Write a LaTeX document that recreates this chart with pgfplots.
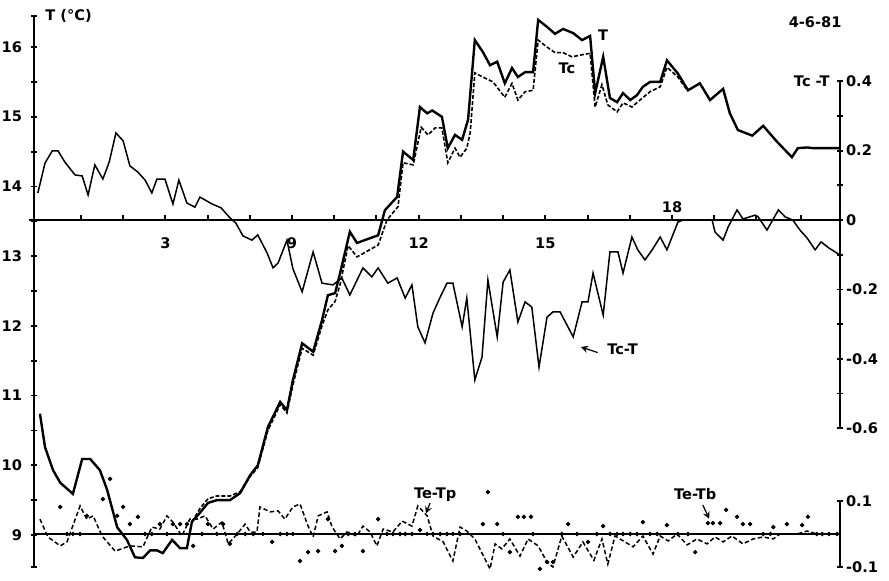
\documentclass[border=0pt]{standalone}
\usepackage{pgfplots}
\pgfplotsset{compat=1.18}
\usepackage{fontspec}
\setmainfont{DejaVu Sans}
\newcommand{\lab}{\fontsize{7.3}{8.5}\selectfont\bfseries}
\pgfplotsset{
  base/.style={
    scale only axis, width=403pt, height=275.5pt,
    at={(0,0)}, anchor=south west,
    xmin=2.889, xmax=21.979, clip=false,
    axis line style={-, line width=1pt},
    tick style={line width=0.9pt, black},
    major tick length=3pt, minor tick length=3pt,
    tick align=inside,
    tick label style={font=\lab},
  }
}
\begin{document}
\begin{tikzpicture}
% ---------- T and Tc (left axis) ----------
\begin{axis}[base, ymin=8.541, ymax=16.446,
  axis x line=none, axis y line=left,
  y axis line style={-, line width=1pt},
  ytick={9,10,11,12,13,14,15,16}, yticklabels={9,10,11,12,13,14,15,16},
  minor ytick={8.541,9.5,10.5,11.5,12.5,13.5,14.5,15.5,16.446},
  yticklabel style={xshift=-1pt}]
\addplot[black, line width=1.2pt] coordinates {
(3.03,10.74)(3.15,10.26)(3.34,9.93)(3.51,9.75)(3.81,9.59)(4.03,10.09)(4.22,10.09)(4.45,9.93)(4.62,9.65)(4.86,9.11)(5.09,8.93)(5.28,8.68)(5.47,8.67)(5.64,8.78)(5.80,8.78)(5.94,8.74)(6.16,8.93)(6.35,8.81)(6.51,8.81)(6.63,9.19)(6.82,9.32)(7.01,9.46)(7.22,9.50)(7.53,9.50)(7.77,9.60)(8.01,9.86)(8.19,10.00)(8.43,10.55)(8.72,10.91)(8.88,10.79)(9.02,11.22)(9.24,11.75)(9.50,11.63)(9.71,12.08)(9.85,12.44)(10.02,12.47)(10.14,12.76)(10.37,13.35)(10.54,13.19)(11.04,13.30)(11.20,13.66)(11.49,13.85)(11.63,14.50)(11.87,14.38)(12.03,15.14)(12.20,15.05)(12.32,15.09)(12.55,15.00)(12.69,14.55)(12.86,14.74)(13.03,14.67)(13.17,14.96)(13.33,16.10)(13.52,15.93)(13.69,15.74)(13.86,15.79)(14.04,15.48)(14.21,15.70)(14.35,15.57)(14.52,15.64)(14.71,15.64)(14.83,16.39)(15.04,16.29)(15.23,16.19)(15.42,16.26)(15.66,16.20)(15.87,16.10)(16.06,16.16)(16.18,15.34)(16.37,15.86)(16.53,15.27)(16.70,15.21)(16.84,15.34)(17.01,15.24)(17.17,15.31)(17.31,15.43)(17.48,15.50)(17.72,15.50)(17.88,15.81)(18.14,15.62)(18.38,15.38)(18.66,15.48)(18.90,15.24)(19.21,15.40)(19.37,15.05)(19.56,14.81)(19.90,14.73)(20.16,14.87)(20.49,14.64)(20.84,14.42)(20.98,14.55)(21.20,14.56)(21.34,14.55)(21.98,14.55)
};
\addplot[black, line width=0.8pt, dash pattern=on 2pt off 1pt] coordinates {
(6.63,9.19)(6.82,9.38)(7.01,9.52)(7.22,9.56)(7.53,9.56)(7.77,9.62)(8.01,9.84)(8.19,9.97)(8.43,10.50)(8.72,10.87)(8.88,10.75)(9.02,11.15)(9.24,11.68)(9.50,11.58)(9.71,12.00)(9.85,12.23)(10.02,12.35)(10.14,12.60)(10.33,13.15)(10.54,12.99)(11.04,13.16)(11.25,13.52)(11.51,13.71)(11.63,14.34)(11.87,14.31)(12.06,14.85)(12.22,14.74)(12.39,14.84)(12.55,14.84)(12.69,14.34)(12.86,14.55)(12.98,14.42)(13.14,14.55)(13.22,14.77)(13.33,15.63)(13.52,15.57)(13.76,15.50)(14.04,15.28)(14.21,15.48)(14.35,15.24)(14.52,15.36)(14.71,15.38)(14.83,16.10)(15.04,16.00)(15.23,15.92)(15.42,15.92)(15.63,15.86)(15.87,15.89)(16.06,15.91)(16.18,15.14)(16.34,15.46)(16.48,15.17)(16.70,15.07)(16.84,15.20)(17.05,15.14)(17.24,15.24)(17.48,15.36)(17.72,15.43)(17.88,15.71)(18.14,15.57)(18.36,15.38)
};
\node[font=\lab, anchor=west] at (axis cs:2.99,16.45) {T (°C)};
\node[font=\lab] at (axis cs:21.39,16.36) {4-6-81};
\node[font=\lab] at (axis cs:16.37,16.17) {T};
\node[font=\lab] at (axis cs:15.51,15.69) {Tc};
\end{axis}
% ---------- Tc - T (right axis) ----------
\begin{axis}[base, ymin=-1.0, ymax=0.588,
  axis x line=middle, axis y line=right,
  x axis line style={-, line width=1pt},
  y axis line style={draw=none},
  xtick={6,9,12,15}, xticklabels={3,9,12,15},
  major x tick style={draw=none},
  xticklabel style={yshift=-4pt},
  ytick={-0.6,-0.4,-0.2,0,0.2,0.4}, yticklabels={-0.6,-0.4,-0.2,0,0.2,0.4},
  minor ytick={-0.5,-0.3,-0.1,0.1,0.3},
  yticklabel style={xshift=-2pt}]
\draw[line width=1pt] (axis cs:21.979,-0.6) -- (axis cs:21.979,0.4);
\draw[line width=1pt] (axis cs:4,0) -- (axis cs:4,0.015) (axis cs:5,0) -- (axis cs:5,0.015) (axis cs:6,0) -- (axis cs:6,0.015) (axis cs:7,0) -- (axis cs:7,0.015) (axis cs:8,0) -- (axis cs:8,0.015) (axis cs:9,0) -- (axis cs:9,0.015) (axis cs:10,0) -- (axis cs:10,0.015) (axis cs:11,0) -- (axis cs:11,0.015) (axis cs:12,0) -- (axis cs:12,0.015) (axis cs:13,0) -- (axis cs:13,0.015) (axis cs:14,0) -- (axis cs:14,0.015) (axis cs:15,0) -- (axis cs:15,0.015) (axis cs:16,0) -- (axis cs:16,0.015) (axis cs:17,0) -- (axis cs:17,0.015) (axis cs:18,0) -- (axis cs:18,0.015) (axis cs:19,0) -- (axis cs:19,0.015) (axis cs:20,0) -- (axis cs:20,0.015) (axis cs:21.05,0) -- (axis cs:21.05,0.015);
\draw[line width=0.9pt] (axis cs:2.889,0) -- ([xshift=-2.5pt]axis cs:2.889,0);
\addplot[black, line width=0.75pt] coordinates {
(2.98,0.078)(3.15,0.164)(3.32,0.199)(3.46,0.199)(3.62,0.167)(3.86,0.130)(4.03,0.127)(4.17,0.072)(4.33,0.159)(4.52,0.118)(4.67,0.167)(4.83,0.251)(5.00,0.228)(5.16,0.156)(5.35,0.138)(5.52,0.115)(5.68,0.078)(5.80,0.118)(5.99,0.118)(6.18,0.046)(6.32,0.115)(6.51,0.049)(6.70,0.037)(6.82,0.066)(7.11,0.046)(7.32,0.035)(7.51,0.009)(7.67,-0.009)(7.84,-0.046)(8.05,-0.058)(8.19,-0.043)(8.41,-0.095)(8.55,-0.138)(8.67,-0.124)(8.88,-0.058)(9.02,-0.140)(9.24,-0.207)(9.50,-0.092)(9.71,-0.182)(9.97,-0.187)(10.18,-0.167)(10.37,-0.216)(10.68,-0.138)(10.89,-0.164)(11.04,-0.138)(11.27,-0.182)(11.49,-0.167)(11.68,-0.225)(11.84,-0.187)(11.98,-0.308)(12.15,-0.354)(12.34,-0.268)(12.51,-0.222)(12.67,-0.182)(12.81,-0.182)(13.03,-0.308)(13.14,-0.225)(13.33,-0.461)(13.50,-0.395)(13.64,-0.173)(13.86,-0.337)(14.00,-0.179)(14.16,-0.144)(14.35,-0.294)(14.52,-0.236)(14.68,-0.251)(14.85,-0.424)(15.04,-0.280)(15.18,-0.265)(15.35,-0.265)(15.66,-0.337)(15.87,-0.236)(16.01,-0.236)(16.13,-0.153)(16.37,-0.274)(16.53,-0.092)(16.72,-0.092)(16.84,-0.153)(17.05,-0.049)(17.19,-0.086)(17.36,-0.115)(17.53,-0.086)(17.72,-0.049)(17.88,-0.086)(18.00,-0.049)(18.14,-0.006)(18.26,0)(18.95,0)(19.02,-0.035)(19.21,-0.058)(19.33,-0.020)(19.54,0.029)(19.68,0.003)(19.97,0.014)(20.04,0.009)(20.25,-0.029)(20.52,0.029)(20.68,0.009)(20.86,0)(21.03,-0.029)(21.20,-0.052)(21.39,-0.086)(21.53,-0.063)(21.72,-0.081)(21.98,-0.101)
};
\node[font=\lab] at (axis cs:18,0.037) {18};
\node[font=\lab, anchor=east] at (axis cs:21.90,0.4) {Tc -T};
\node[font=\lab, anchor=west] at (axis cs:16.30,-0.372) {Tc-T};
\draw[->, >=stealth, line width=0.6pt] (axis cs:16.24,-0.382) -- (axis cs:15.84,-0.366);
\end{axis}
% ---------- Te - Tp, Te - Tb (bottom right axis) ----------
\begin{axis}[base, ymin=-0.1, ymax=1.57,
  axis x line=middle, axis y line=right,
  x axis line style={-, line width=1pt},
  y axis line style={draw=none},
  xtick=\empty,
  ytick={-0.1,0.1}, yticklabels={-0.1,0.1},
  yticklabel style={xshift=-2pt}]
\draw[line width=1pt] (axis cs:21.979,-0.1) -- (axis cs:21.979,0.1);
\addplot[black, line width=0.75pt, dash pattern=on 2.2pt off 1.3pt] coordinates {
(3.03,0.045)(3.22,-0.009)(3.51,-0.036)(3.67,-0.024)(3.98,0.085)(4.14,0.045)(4.29,0.055)(4.50,-0.006)(4.81,-0.052)(5.16,-0.036)(5.47,-0.039)(5.68,0.021)(5.87,0.015)(6.04,0.055)(6.18,0.036)(6.39,-0.006)(6.58,0.045)(6.75,0.045)(6.94,0.055)(7.13,0.015)(7.34,0.036)(7.49,-0.030)(7.70,0)(7.89,0.030)(8.01,0.006)(8.17,0.006)(8.24,0.082)(8.48,0.067)(8.67,0.070)(8.83,0.045)(9.02,0.082)(9.19,0.091)(9.38,0.024)(9.50,-0.009)(9.62,0.055)(9.83,0.067)(9.95,0.021)(10.14,-0.015)(10.30,0.006)(10.54,-0.006)(10.68,0.024)(10.85,0.006)(11.01,-0.036)(11.16,0.015)(11.39,0.006)(11.61,0.039)(11.84,0.024)(11.98,0.085)(12.20,0.055)(12.34,-0.006)(12.58,-0.024)(12.81,-0.082)(12.98,0.021)(13.14,0.009)(13.33,-0.015)(13.69,-0.106)(13.81,-0.030)(13.97,-0.045)(14.16,-0.015)(14.40,-0.067)(14.59,-0.015)(14.83,-0.036)(15.04,-0.085)(15.18,-0.1)(15.39,-0.006)(15.66,-0.070)(15.89,-0.024)(16.15,-0.080)(16.34,-0.015)(16.48,-0.091)(16.65,-0.006)(17.08,-0.039)(17.31,-0.006)(17.55,-0.061)(17.72,-0.006)(17.91,-0.021)(18.12,0)(18.36,-0.033)(18.59,-0.015)(18.83,-0.030)(19.02,-0.009)(19.21,-0.024)(19.42,-0.006)(19.68,-0.030)(19.92,-0.015)(20.16,-0.009)(20.40,-0.015)(20.56,0)(20.96,0)(21.20,0.009)(21.43,0)(21.98,0)
};
\addplot[only marks, mark=*, mark size=0.9pt, black] coordinates {
(3.51,0.082)(3.67,0)(3.81,0)(3.98,0)(4.14,0.055)(4.52,0.106)(4.69,0.167)(4.86,0.055)(5.00,0.082)(5.16,0.030)(5.35,0.052)(5.52,0)(5.68,0)(5.87,0.030)(6.04,0)(6.18,0.030)(6.35,0.030)(6.51,0.030)(6.66,-0.036)(6.87,0)(7.01,0.030)(7.22,0)(7.37,0.030)(7.53,-0.030)(7.70,0)(7.89,0)(8.08,0)(8.31,0)(8.53,-0.024)(8.72,0)(8.88,0)(9.02,0)(9.19,-0.082)(9.38,-0.055)(9.62,-0.052)(9.85,0.045)(10.02,-0.052)(10.18,-0.036)(10.33,0)(10.49,0)(10.68,-0.052)(11.04,0.045)(11.25,0)(11.39,0)(11.56,0)(11.68,0)(11.84,0)(12.03,0.012)(12.20,0)(12.34,0)(12.51,0)(12.67,0)(12.81,0)(12.98,0)(13.52,0.030)(13.64,0.127)(13.86,0.030)(14.00,0)(14.16,-0.055)(14.35,0.052)(14.49,0.052)(14.66,0.052)(14.71,0)(14.87,-0.106)(15.04,-0.085)(15.18,-0.085)(15.39,0)(15.54,0.030)(15.75,0)(16.01,-0.024)(16.22,0)(16.37,0.024)(16.53,0)(16.70,0)(16.84,0)(17.01,0)(17.17,0)(17.31,0.036)(17.48,0)(17.65,0)(17.88,0.027)(18.14,0)(18.38,0)(18.55,-0.055)(18.85,0.033)(18.97,0.033)(19.14,0.033)(19.28,0.073)(19.54,0.052)(19.68,0.030)(19.85,0.030)(20.16,0)(20.33,0)(20.40,0.021)(20.72,0.030)(21.08,0.027)(21.22,0.052)(21.43,0)(21.56,0)(21.72,0)(21.91,0)
};
\node[font=\lab] at (axis cs:12.39,0.118) {Te-Tp};
\draw[->, >=stealth, line width=0.6pt] (axis cs:12.27,0.094) -- (axis cs:12.17,0.062);
\node[font=\lab] at (axis cs:18.55,0.121) {Te-Tb};
\draw[->, >=stealth, line width=0.6pt] (axis cs:18.73,0.088) -- (axis cs:18.88,0.046);
\end{axis}
\pgfresetboundingbox
\useasboundingbox (-17pt,-7pt) rectangle (427.5pt,283.5pt);
\end{tikzpicture}
\end{document}
